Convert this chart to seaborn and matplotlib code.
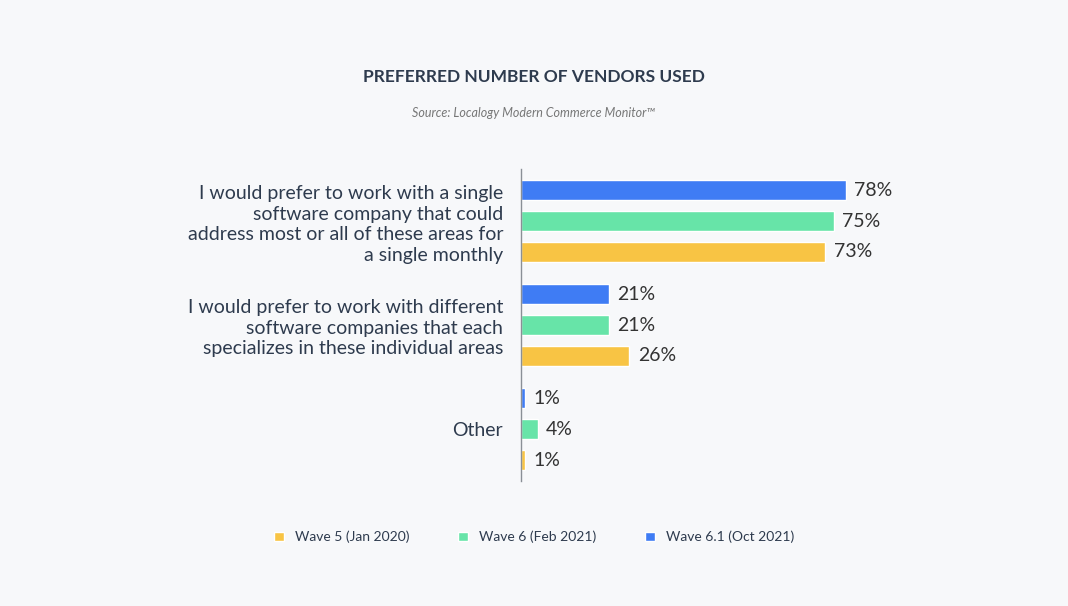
import numpy as np
import pandas as pd
import matplotlib
matplotlib.use("Agg")
import matplotlib.pyplot as plt
import seaborn as sns
from matplotlib.patches import Patch

categories = [
    "I would prefer to work with a single\nsoftware company that could\naddress most or all of these areas for\na single monthly",
    "I would prefer to work with different\nsoftware companies that each\nspecializes in these individual areas",
    "Other",
]
waves = ["Wave 6.1 (Oct 2021)", "Wave 6 (Feb 2021)", "Wave 5 (Jan 2020)"]
wave61 = [78, 21, 1]
wave6 = [75, 21, 4]
wave5 = [73, 26, 1]
colors = {"Wave 6.1 (Oct 2021)": "#3f7cf4", "Wave 6 (Feb 2021)": "#67e4a8", "Wave 5 (Jan 2020)": "#f8c444"}

df = pd.DataFrame({
    "category": categories * 3,
    "wave": [w for w in waves for _ in categories],
    "value": wave61 + wave6 + wave5,
})

sns.set_style("white")
plt.rcParams["font.family"] = ["Lato", "DejaVu Sans"]
bg = "#f7f8fa"
text_c = "#2e3b4e"

fig = plt.figure(figsize=(10.68, 6.06), dpi=100, facecolor=bg)
ax = fig.add_axes([0.488, 0.206, 0.39, 0.515], facecolor=bg)
sns.barplot(data=df, y="category", x="value", hue="wave", hue_order=waves,
            palette=colors, saturation=1, orient="h", width=0.89, gap=0.345,
            ax=ax, legend=False)

for cont in ax.containers:
    ax.bar_label(cont, labels=[f"{v:.0f}%" for v in cont.datavalues],
                 padding=6, fontsize=14, color="#333333")

ax.set_xlim(0, 100)
ax.set_ylim(2.5, -0.5)
ax.set_xticks([])
ax.set_xlabel("")
ax.set_ylabel("")
ax.tick_params(axis="y", length=0, pad=13, labelsize=14, labelcolor=text_c)
for lbl in ax.get_yticklabels():
    lbl.set_horizontalalignment("right")
    lbl.set_linespacing(1.25)
for s in ["top", "right", "bottom"]:
    ax.spines[s].set_visible(False)
ax.spines["left"].set_color("#8a8f96")
ax.spines["left"].set_linewidth(1)

fig.text(0.5, 1 - 77 / 606, "PREFERRED NUMBER OF VENDORS USED", ha="center", va="center",
         fontsize=12.5, fontweight="bold", color=text_c)
fig.text(0.5, 1 - 113 / 606, "Source: Localogy Modern Commerce Monitor™", ha="center", va="center",
         fontsize=9, style="italic", color="#777777")

legend_order = ["Wave 5 (Jan 2020)", "Wave 6 (Feb 2021)", "Wave 6.1 (Oct 2021)"]
handles = [Patch(facecolor=colors[w], label=w) for w in legend_order]
fig.legend(handles=handles, loc="center", bbox_to_anchor=(0.5, 1 - 537 / 606), ncol=3,
           frameon=False, fontsize=10, handlelength=0.7, handleheight=0.7,
           columnspacing=3.5, labelcolor=text_c)

plt.savefig("out.png", dpi=100, facecolor=bg)
